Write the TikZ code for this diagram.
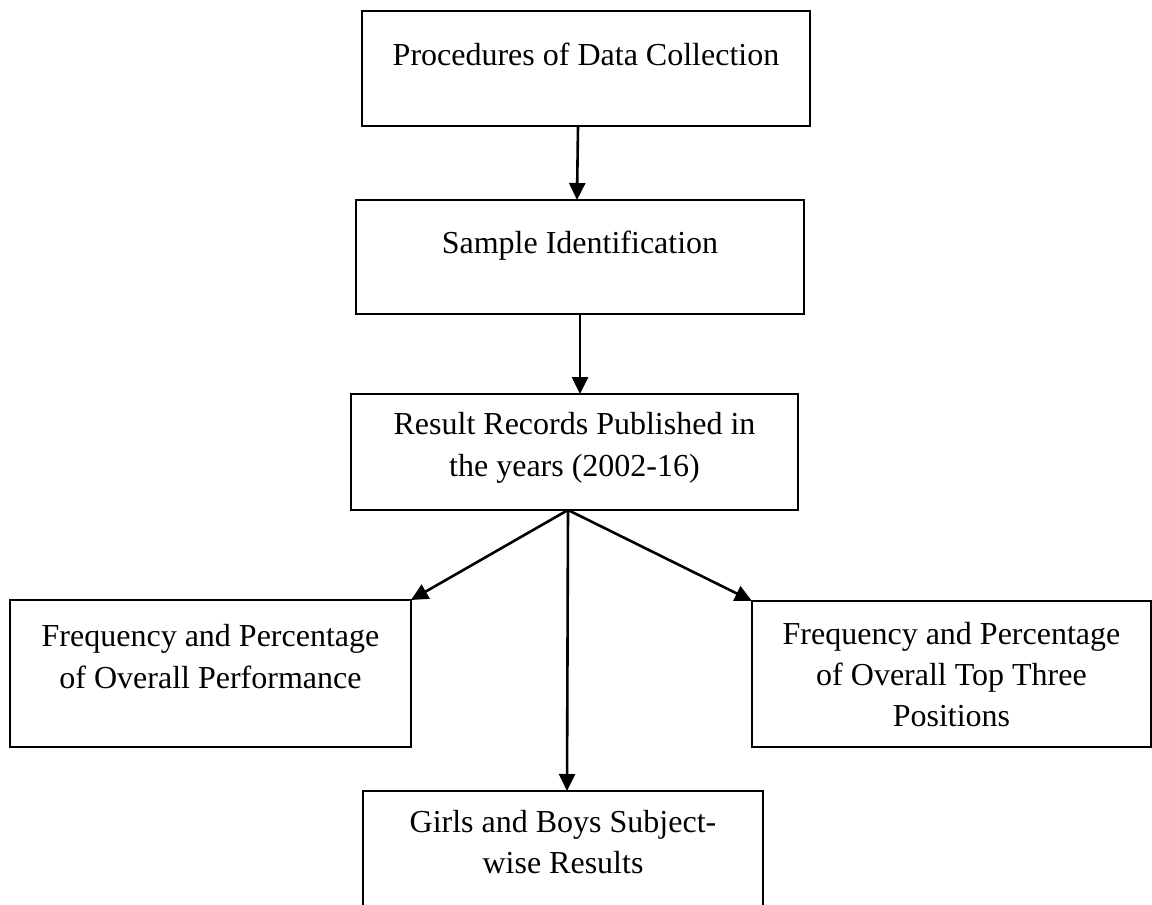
\documentclass[tikz,border=0pt]{standalone}
\usepackage{fontspec}
\setmainfont{Liberation Serif}
\usetikzlibrary{arrows.meta}
\begin{document}
\begin{tikzpicture}[x=1pt,y=-1pt,
  box/.style={draw=black,line width=2.7pt,rectangle,inner sep=0pt,outer sep=0pt},
  txt/.style={anchor=base,inner sep=0pt,font=\fontsize{32}{38}\selectfont},
  arr/.style={line width=2.6pt,-{Triangle[length=17pt,width=16pt]}}]
\useasboundingbox (0,0) rectangle (1152,905);
\clip (0,0) rectangle (1152,905);
% boxes
\node[box,minimum width=448pt,minimum height=115pt] (b1) at (586,68.5) {};
\node[box,minimum width=448pt,minimum height=114pt] (b2) at (580,257) {};
\node[box,minimum width=447pt,minimum height=116pt] (b3) at (574.5,452) {};
\node[box,minimum width=401pt,minimum height=147pt] (b4) at (210.5,673.5) {};
\node[box,minimum width=399pt,minimum height=146pt] (b5) at (951.5,674) {};
\node[box,minimum width=400pt,minimum height=147pt] (b6) at (563,864.5) {};
% texts
\node[txt] (t1) at (586,65) {Procedures of Data Collection};
\node[txt] (t2) at (580,253) {Sample Identification};
\node[txt] (t3a) at (574.5,434) {Result Records Published in};
\node[txt] (t3b) at (574.5,476) {the years (2002-16)};
\node[txt] (t4a) at (210.5,646) {Frequency and Percentage};
\node[txt] (t4b) at (210.5,688) {of Overall Performance};
\node[txt] (t5a) at (951.5,644) {Frequency and Percentage};
\node[txt] (t5b) at (951.5,685) {of Overall Top Three};
\node[txt] (t5c) at (951.5,726) {Positions};
\node[txt] (t6a) at (563,832) {Girls and Boys Subject-};
\node[txt] (t6b) at (563,873) {wise Results};
% connectors
\coordinate (o) at ([xshift=-6.5pt]b3.south);
\draw[arr] ([xshift=-8pt]b1.south) -- ([xshift=-3pt]b2.north);
\draw[arr] (b2.south) -- ([xshift=5.5pt]b3.north);
\draw[arr] (o) -- (b4.north east);
\draw[arr] (o) -- (b5.north west);
\draw[arr] (o) -- ([xshift=4pt]b6.north);
\end{tikzpicture}
\end{document}
